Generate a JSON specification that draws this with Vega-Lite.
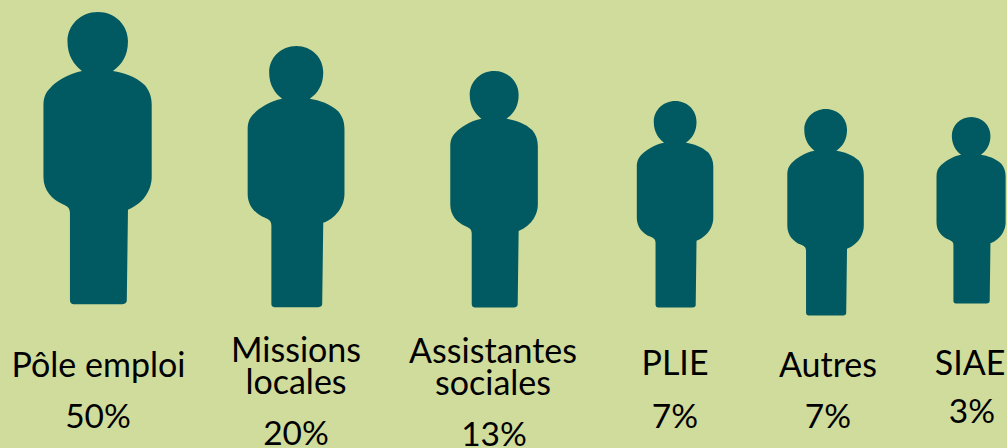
{"$schema":"https://vega.github.io/schema/vega-lite/v6.json","width":1007,"height":448,"padding":0,"autosize":{"type":"fit","contains":"padding"},"background":"#d0dc9b","view":{"stroke":null},"config":{"axis":{"disable":true}},"data":{"values":[{"rank":1,"label":"Pôle emploi","value":50,"pct":"50%"},{"rank":2,"label":"Missions\nlocales","value":20,"pct":"20%"},{"rank":3,"label":"Assistantes\nsociales","value":13,"pct":"13%"},{"rank":4,"label":"PLIE","value":7,"pct":"7%"},{"rank":5,"label":"Autres","value":7,"pct":"7%"},{"rank":6,"label":"SIAE","value":3,"pct":"3%"}]},"layer":[{"mark":{"type":"point","filled":true,"opacity":1,"color":"#015a62","shape":"M -0.106 -0.597 C -0.16 -0.64 -0.205 -0.70 -0.205 -0.80 C -0.205 -0.91 -0.115 -1 0.003 -1 C 0.12 -1 0.208 -0.91 0.208 -0.80 C 0.208 -0.70 0.165 -0.64 0.105 -0.597 C 0.18 -0.585 0.26 -0.56 0.324 -0.50 C 0.355 -0.46 0.37 -0.42 0.37 -0.365 L 0.37 0.127 C 0.37 0.2 0.33 0.3 0.208 0.35 L 0.2 0.97 Q 0.2 0.99 0.17 0.995 L -0.165 0.995 Q -0.188 0.99 -0.188 0.97 L -0.188 0.37 C -0.19 0.33 -0.21 0.325 -0.24 0.31 C -0.31 0.28 -0.369 0.22 -0.369 0.127 L -0.369 -0.365 C -0.369 -0.42 -0.35 -0.455 -0.324 -0.48 C -0.29 -0.52 -0.2 -0.58 -0.106 -0.597 Z"},"encoding":{"x":{"field":"rank","type":"quantitative","axis":null,"scale":{"domain":[1,2,3,4,5,6],"range":[97.5,296,494,675,825.5,971],"zero":false,"nice":false}},"y":{"field":"rank","type":"quantitative","axis":null,"scale":{"domain":[1,2,3,4,5,6],"range":[158.5,177,189.5,204.5,212.5,210.5],"zero":false,"nice":false}},"size":{"field":"value","type":"quantitative","legend":null,"scale":{"domain":[3,7,13,20,50],"range":[34969,42849,56169,68644,85849],"zero":false,"nice":false}}}},{"mark":{"type":"text","font":"Lato","fontSize":34,"color":"#000000","align":"center","baseline":"alphabetic","lineBreak":"\n","lineHeight":32},"encoding":{"text":{"field":"label"},"x":{"field":"rank","type":"quantitative","axis":null,"scale":{"domain":[1,2,3,4,5,6],"range":[98.5,296,493,675,828,970],"zero":false,"nice":false}},"y":{"field":"rank","type":"quantitative","axis":null,"scale":{"domain":[1,2,3,4,5,6],"range":[377,362,363,375,377,375],"zero":false,"nice":false}}}},{"mark":{"type":"text","font":"Lato","fontSize":33.5,"color":"#000000","align":"center","baseline":"alphabetic"},"encoding":{"text":{"field":"pct"},"x":{"field":"rank","type":"quantitative","axis":null,"scale":{"domain":[1,2,3,4,5,6],"range":[98,296,494,675,828,972],"zero":false,"nice":false}},"y":{"field":"rank","type":"quantitative","axis":null,"scale":{"domain":[1,2,3,4,5,6],"range":[428,445,446,428,428,423],"zero":false,"nice":false}}}}],"resolve":{"scale":{"x":"independent","y":"independent"}}}
